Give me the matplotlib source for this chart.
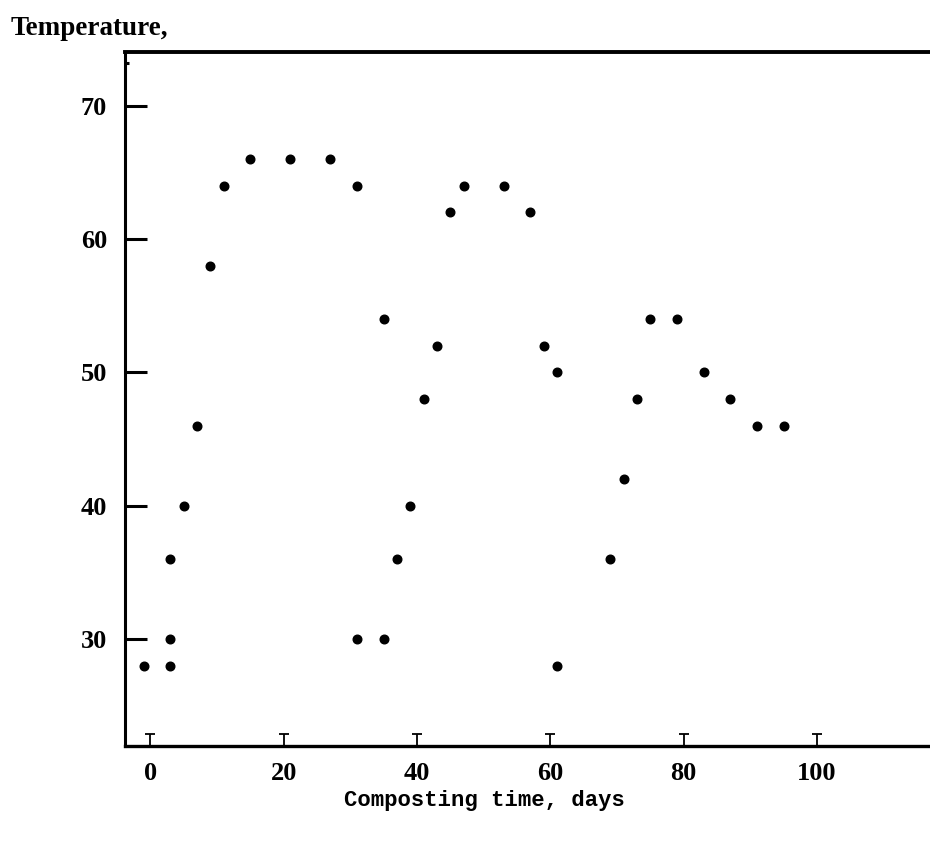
import matplotlib
matplotlib.use("Agg")
import matplotlib.pyplot as plt
import matplotlib.transforms as mtransforms

# composting run: day vs pile temperature
days = [-1, 3, 3, 3, 5, 7, 9, 11, 15, 21, 27, 31, 31, 35, 35, 37, 39, 41,
        43, 45, 47, 53, 57, 59, 61, 61, 69, 71, 73, 75, 79, 83, 87, 91, 95]
temps = [28, 28, 30, 36, 40, 46, 58, 64, 66, 66, 66, 64, 30, 54, 30, 36, 40, 48,
         52, 62, 64, 64, 62, 52, 50, 28, 36, 42, 48, 54, 54, 50, 48, 46, 46]

x_ticks = [0, 20, 40, 60, 80, 100]
y_ticks = [30, 40, 50, 60, 70]

fig = plt.figure(figsize=(9.3, 8.49), dpi=100)
ax = fig.add_axes([0.1344, 0.1217, 0.8656, 0.8173])

ax.plot(days, temps, 'o', color='black', markersize=6.2, linestyle='none')

ax.set_xlim(-3.8, 116.95)
ax.set_ylim(22.0, 74.05)

ax.spines['right'].set_visible(False)
ax.spines['left'].set_linewidth(2.2)
ax.spines['bottom'].set_linewidth(2.4)
ax.spines['top'].set_linewidth(2.8)

serif = ['Liberation Serif', 'DejaVu Serif']
ax.set_xticks(x_ticks)
ax.set_yticks(y_ticks)
ax.set_xticklabels([str(v) for v in x_ticks], fontfamily=serif,
                   fontweight='bold', fontsize=19)
ax.set_yticklabels([str(v) for v in y_ticks], fontfamily=serif,
                   fontweight='bold', fontsize=19)
ax.tick_params(axis='x', direction='in', length=8.6, width=1.3, pad=12,
               top=False)
ax.tick_params(axis='y', direction='in', length=16, width=2.2, pad=13,
               right=False)
ax.set_yticks([73.2], minor=True)
ax.tick_params(axis='y', which='minor', direction='in', length=3, width=2.2)

# small caps on the x ticks, T style
trans = mtransforms.blended_transform_factory(ax.transData, ax.transAxes)
ax.plot(x_ticks, [0.0175] * len(x_ticks), '_', color='black',
        markersize=7, markeredgewidth=1.3, transform=trans, clip_on=False)

fig.text(0.011, 0.967, 'Temperature,', fontfamily=serif, fontweight='bold',
         fontsize=19.5, ha='left', va='center')
fig.text(0.521, 0.057, 'Composting time, days',
         fontfamily=['Liberation Mono', 'DejaVu Sans Mono'],
         fontweight='bold', fontsize=16, ha='center', va='center')

fig.savefig('out.png', dpi=100)
